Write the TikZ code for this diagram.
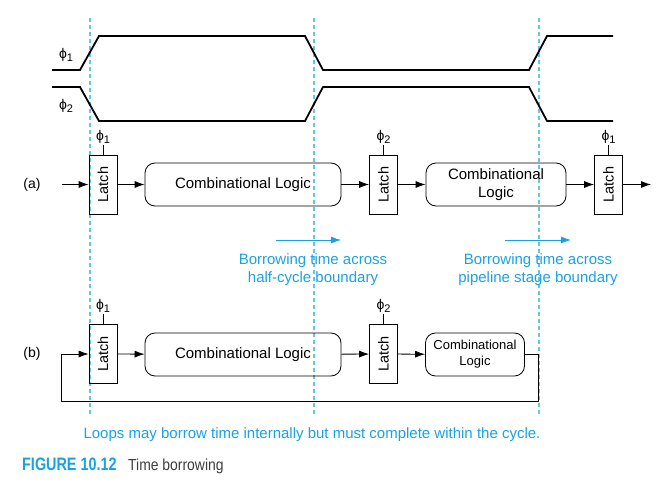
\documentclass[tikz,border=0pt]{standalone}
\usepackage{fontspec}
\setmainfont{Liberation Sans}
\usetikzlibrary{arrows.meta}
\definecolor{tbblue}{RGB}{27,161,226}
\definecolor{tbdash}{RGB}{95,198,240}
\definecolor{tbgray}{RGB}{60,60,60}
\def\ph#1{ϕ\raisebox{-0.4ex}{\fontsize{11}{11}\selectfont #1}}

\begin{document}
\begin{tikzpicture}[x=1pt,y=-1pt,
	latch/.style={draw,line width=0.8pt,minimum width=28pt,minimum height=59pt,inner sep=0pt,font=\fontsize{14.5}{16}\selectfont},
	logic/.style={draw,line width=0.8pt,rounded corners=10pt,minimum height=43pt,inner sep=0pt,align=center,font=\fontsize{15}{18}\selectfont},
	wire/.style={line width=0.8pt,-{Latex[length=10pt,width=7pt]}},
	clk/.style={above,inner sep=1pt,font=\fontsize{14}{14}\selectfont},
	note/.style={text=tbblue,align=center,font=\fontsize{15}{18}\selectfont},
	borrow/.style={tbblue,line width=0.8pt,-{Latex[length=10pt,width=7pt]}}]
				%%%%% START %%%%%
				\useasboundingbox (0,0) rectangle (661,492);
				
				% boundaries
				\draw[tbdash,line width=1.2pt,dash pattern=on 4pt off 3pt] (90,18) -- (90,416);
				\draw[tbdash,line width=1.2pt,dash pattern=on 4pt off 3pt] (314,18) -- (314,416);
				\draw[tbdash,line width=1.2pt,dash pattern=on 4pt off 3pt] (539,18) -- (539,416);
				
				% clocks
				\draw[line width=1.8pt] (52,70) -- (80,70) -- (99,36) -- (305,36) -- (323,70) -- (529,70) -- (547,36) -- (613,36);
				\draw[line width=1.8pt] (52,87) -- (80,87) -- (99,121) -- (305,121) -- (323,87) -- (529,87) -- (547,121) -- (613,121);
				\node[font=\fontsize{14}{14}\selectfont] (phiA) at (66,55) {\ph{1}};
				\node[font=\fontsize{14}{14}\selectfont] (phiB) at (66,106) {\ph{2}};
				
				% (a)
				\node[font=\fontsize{14}{14}\selectfont] (tagA) at (32,184.5) {(a)};
				\coordinate (inA) at (62,184.5);
				\coordinate (outA) at (651,184.5);
				\node[latch] (latchAa) at (103,184.5) {\rotatebox{90}{Latch}};
				\node[logic,minimum width=196pt] (logicAa) at (243,184.5) {Combinational Logic};
				\node[latch] (latchAb) at (383.5,184.5) {\rotatebox{90}{Latch}};
				\node[logic,minimum width=140pt] (logicAb) at (496,184.5) {Combinational\\Logic};
				\node[latch] (latchAc) at (608.5,184.5) {\rotatebox{90}{Latch}};
				\draw[line width=0.8pt] (latchAa.north) -- ++(0,-10) node[clk] (clkAa) {\ph{1}};
				\draw[line width=0.8pt] (latchAb.north) -- ++(0,-10) node[clk] (clkAb) {\ph{2}};
				\draw[line width=0.8pt] (latchAc.north) -- ++(0,-10) node[clk] (clkAc) {\ph{1}};
				\draw[wire] (inA) -- (latchAa);
				\draw[wire] (latchAa) -- (logicAa);
				\draw[wire] (logicAa) -- (latchAb);
				\draw[wire] (latchAb) -- (logicAb);
				\draw[wire] (logicAb) -- (latchAc);
				\draw[wire] (latchAc) -- (outA);
				
				% borrowing notes
				\coordinate (brA1) at (276,240);
				\coordinate (brA2) at (341,240);
				\coordinate (brB1) at (505,240);
				\coordinate (brB2) at (571,240);
				\draw[borrow] (brA1) -- (brA2);
				\draw[borrow] (brB1) -- (brB2);
				\node[note] (noteA) at (313,270) {Borrowing time across\\half-cycle boundary};
				\node[note] (noteB) at (538,270) {Borrowing time across\\pipeline stage boundary};
				
				% (b)
				\node[font=\fontsize{14}{14}\selectfont] (tagB) at (32,354) {(b)};
				\node[latch] (latchBa) at (103,354) {\rotatebox{90}{Latch}};
				\node[logic,minimum width=196pt] (logicBa) at (243,354.5) {Combinational Logic};
				\node[latch] (latchBb) at (383.5,354) {\rotatebox{90}{Latch}};
				\node[logic,minimum width=99pt,font=\fontsize{13}{16}\selectfont] (logicBb) at (475,354.5) {Combinational\\Logic};
				\draw[line width=0.8pt] (latchBa.north) -- ++(0,-10) node[clk] (clkBa) {\ph{1}};
				\draw[line width=0.8pt] (latchBb.north) -- ++(0,-10) node[clk] (clkBb) {\ph{2}};
				\draw[wire] (latchBa) -- (logicBa);
				\draw[wire] (logicBa) -- (latchBb);
				\draw[wire] (latchBb) -- (logicBb);
				\coordinate (fbR) at (538,401);
				\coordinate (fbL) at (61.5,401);
				\draw[wire] (logicBb.east) -| (fbR) -- (fbL) |- (latchBa.west);
				
				\node[note] (noteC) at (312,435) {Loops may borrow time internally but must complete within the cycle.};
				
				% caption
				\node[anchor=base west,inner sep=0pt,text=tbblue,font=\fontsize{18}{18}\selectfont\bfseries] (figNo) at (22,470) {\scalebox{0.8}[1]{FIGURE 10.12}};
				\node[anchor=base west,inner sep=0pt,text=tbgray,font=\fontsize{16}{16}\selectfont] (figTitle) at (128,470) {\scalebox{0.87}[1]{Time borrowing}};
				%%%%% END %%%%%
\end{tikzpicture}
\end{document}
